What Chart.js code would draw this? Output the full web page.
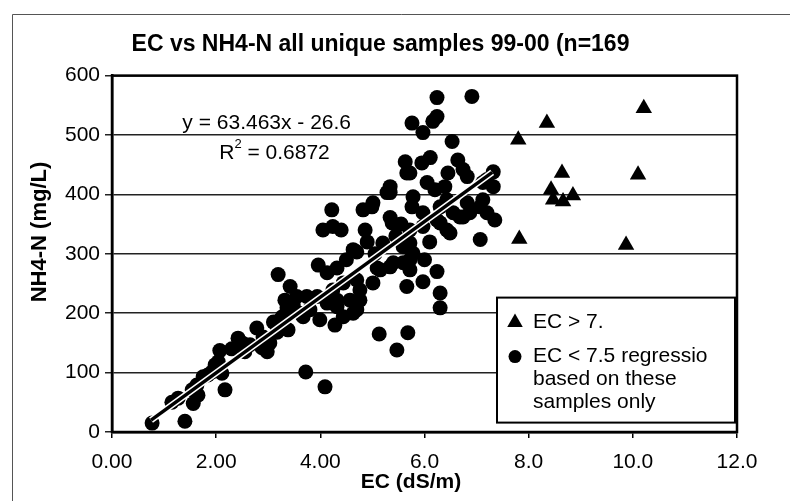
<!DOCTYPE html>
<html>
<head>
<meta charset="utf-8">
<script src="https://cdn.jsdelivr.net/npm/chart.js@4.4.1/dist/chart.umd.min.js"></script>
<style>
  html, body { margin: 0; padding: 0; background: #fff; }
</style>
</head>
<body>
<canvas id="ecChart" width="790" height="501"></canvas>
<script>
// Data
const titleText = "EC vs NH4-N all unique samples 99-00 (n=169";
const xTickLabels = ["0.00", "2.00", "4.00", "6.0", "8.0", "10.0", "12.0"];

// EC > 7.5 samples (triangles)
const highEC = [10.21, 8.35, 7.80, 8.64, 10.10, 8.43, 8.47, 8.66, 8.85, 7.82, 9.87];
const highNH4 = [545, 520, 492, 436, 433, 408, 391, 388, 398, 325, 315];

// EC < 7.5 samples used for the regression (circles)
const lowEC = [
  0.77, 1.40, 1.15, 1.27, 1.56, 1.54, 1.65, 1.63, 1.75, 1.84,
  2.17, 1.92, 1.98, 2.11, 2.07, 2.04, 2.42, 2.55, 2.65, 2.78,
  2.90, 2.98, 3.03, 2.88, 3.17, 3.28, 3.36, 3.32, 3.19, 3.42,
  3.27, 3.38, 3.72, 4.09, 3.96, 4.32, 4.63, 5.13, 5.47, 5.68,
  3.74, 3.94, 3.67, 4.28, 4.63, 4.70, 5.01, 5.09, 5.59, 5.72,
  5.66, 4.32, 4.44, 3.42, 3.23, 4.22, 4.05, 4.24, 4.82, 4.99,
  4.86, 5.34, 5.38, 5.20, 4.70, 3.55, 4.13, 4.24, 4.13, 4.32,
  4.57, 4.76, 4.70, 5.15, 5.40, 3.80, 3.61, 3.48, 3.99, 4.44,
  4.76, 6.91, 6.24, 6.24, 6.16, 5.76, 5.97, 6.53, 5.63, 5.72,
  5.95, 6.11, 6.64, 6.45, 6.74, 6.82, 5.34, 5.28, 6.05, 6.20,
  6.39, 5.78, 5.76, 5.01, 5.34, 7.20, 7.32, 7.12, 6.82, 7.07,
  7.32, 5.97, 6.55, 6.30, 5.66, 6.43, 7.12, 7.20, 7.35, 6.74,
  6.24, 6.43, 7.07, 6.24, 5.97, 6.30, 6.30, 5.72, 5.72, 5.97,
  6.30, 6.49, 6.68, 6.87, 5.72, 5.34, 5.78, 5.59, 5.45, 5.05,
  4.50, 4.90, 5.55, 6.10, 6.00, 4.40, 3.10, 2.30, 2.50
];
const lowNH4 = [
  15, 18, 50, 57, 48, 71, 62, 79, 93, 96,
  71, 101, 113, 99, 137, 118, 158, 135, 147, 175,
  160, 135, 150, 142, 168, 189, 209, 222, 265, 245,
  194, 172, 101, 76, 281, 276, 307, 165, 138, 167,
  228, 228, 194, 180, 200, 256, 251, 276, 285, 290,
  245, 222, 251, 202, 189, 374, 340, 346, 374, 379,
  340, 403, 352, 318, 303, 228, 268, 239, 217, 211,
  222, 239, 206, 273, 285, 206, 200, 214, 189, 194,
  222, 565, 563, 531, 523, 520, 504, 489, 455, 436,
  453, 462, 458, 436, 442, 430, 413, 403, 420, 408,
  413, 396, 379, 386, 361, 425, 438, 420, 386, 379,
  413, 369, 369, 379, 436, 391, 391, 369, 357, 362,
  357, 340, 324, 270, 253, 234, 209, 340, 318, 346,
  352, 335, 362, 369, 273, 278, 301, 312, 330, 300,
  290, 320, 350, 320, 290, 340, 185, 140, 150
];

// Trend line end points as drawn
const trendEC = [0.75, 7.3];
const trendNH4 = [20, 437];

const fontFamily = "'Liberation Sans', Arial, sans-serif";

function toPoints(xs, ys) {
  return xs.map((x, i) => ({ x: x, y: ys[i] }));
}

// Frame, plot border, axis titles, equation and legend box
const annotate = {
  id: "annotate",
  beforeDraw(chart) {
    const ctx = chart.ctx;
    ctx.save();
    ctx.fillStyle = "#fff";
    ctx.fillRect(0, 0, chart.width, chart.height);
    ctx.strokeStyle = "#555";
    ctx.lineWidth = 1;
    ctx.beginPath();
    ctx.moveTo(12.5, chart.height);
    ctx.lineTo(12.5, 14.5);
    ctx.lineTo(chart.width, 14.5);
    ctx.stroke();
    ctx.restore();
  },
  beforeDatasetsDraw(chart) {
    const { ctx, chartArea: a } = chart;
    ctx.save();
    ctx.strokeStyle = "#000";
    ctx.lineWidth = 2.5;
    ctx.strokeRect(a.left, a.top, a.right - a.left, a.bottom - a.top);
    ctx.restore();
  },
  afterDraw(chart) {
    const { ctx, chartArea: a } = chart;
    const xs = chart.scales.x;
    const ys = chart.scales.y;
    ctx.save();
    ctx.fillStyle = "#000";
    ctx.textBaseline = "middle";

    // axis titles
    ctx.font = "bold 21px " + fontFamily;
    ctx.textAlign = "center";
    ctx.fillText("EC (dS/m)", 411, 482);
    ctx.save();
    ctx.translate(40, 232);
    ctx.rotate(-Math.PI / 2);
    ctx.font = "bold 22px " + fontFamily;
    ctx.fillText("NH4-N (mg/L)", 0, 0);
    ctx.restore();

    // regression equation
    ctx.font = "21px " + fontFamily;
    ctx.fillText("y = 63.463x - 26.6", xs.getPixelForValue(2.97), ys.getPixelForValue(520));
    const r = "R", sup = "2", rest = " = 0.6872";
    const wR = ctx.measureText(r).width;
    const wRest = ctx.measureText(rest).width;
    ctx.font = "13px " + fontFamily;
    const wSup = ctx.measureText(sup).width;
    let x0 = xs.getPixelForValue(3.12) - (wR + wSup + wRest) / 2;
    const yR = ys.getPixelForValue(470);
    ctx.textAlign = "left";
    ctx.font = "21px " + fontFamily;
    ctx.fillText(r, x0, yR);
    ctx.font = "13px " + fontFamily;
    ctx.fillText(sup, x0 + wR, yR - 8);
    ctx.font = "21px " + fontFamily;
    ctx.fillText(rest, x0 + wR + wSup, yR);

    // legend box
    const lx = a.right - 240, ly = a.top + 222, lw = 238, lh = 125;
    ctx.fillStyle = "#fff";
    ctx.fillRect(lx, ly, lw, lh);
    ctx.strokeStyle = "#000";
    ctx.lineWidth = 2;
    ctx.strokeRect(lx, ly, lw, lh);
    ctx.fillStyle = "#000";
    Chart.helpers.drawPoint(ctx, { pointStyle: "triangle", radius: 9, rotation: 0, borderWidth: 0 }, lx + 18, ly + 25);
    Chart.helpers.drawPoint(ctx, { pointStyle: "circle", radius: 6.5, rotation: 0, borderWidth: 0 }, lx + 18, ly + 59);
    ctx.font = "21px " + fontFamily;
    ctx.fillText("EC > 7.", lx + 36, ly + 25);
    ctx.fillText("EC < 7.5 regressio", lx + 36, ly + 59);
    ctx.fillText("based on these", lx + 36, ly + 82);
    ctx.fillText("samples only", lx + 36, ly + 105);
    ctx.restore();
  }
};

const ctx = document.getElementById("ecChart").getContext("2d");
const chart = new Chart(ctx, {
  type: "scatter",
  data: {
    datasets: [
      {
        label: "EC > 7.",
        data: toPoints(highEC, highNH4),
        pointStyle: "triangle",
        pointRadius: 9.5,
        backgroundColor: "#000",
        borderColor: "#000",
        pointBorderWidth: 0,
        order: 2,
      },
      {
        label: "EC < 7.5 regressio based on these samples only",
        data: toPoints(lowEC, lowNH4),
        pointStyle: "circle",
        pointRadius: 7.5,
        backgroundColor: "#000",
        borderColor: "#000",
        pointBorderWidth: 0,
        order: 2,
      },
      {
        label: "trend halo",
        data: toPoints(trendEC, trendNH4),
        showLine: true,
        borderColor: "#fff",
        borderWidth: 6.5,
        pointRadius: 0,
        order: 1,
      },
      {
        label: "trend",
        data: toPoints(trendEC, trendNH4),
        showLine: true,
        borderColor: "#000",
        borderWidth: 3.5,
        pointRadius: 0,
        order: 0,
      },
    ],
  },
  options: {
    responsive: false,
    animation: false,
    layout: { padding: { left: 24, right: 53, top: 0, bottom: 0 } },
    plugins: {
      legend: { display: false },
      tooltip: { enabled: false },
      title: {
        display: true,
        text: titleText,
        color: "#000",
        font: { family: fontFamily, size: 23, weight: "bold" },
        padding: { top: 31, bottom: 17 },
      },
    },
    scales: {
      x: {
        type: "linear",
        min: 0,
        max: 12,
        ticks: {
          stepSize: 2,
          color: "#000",
          font: { family: fontFamily, size: 21 },
          padding: 12,
          maxRotation: 0,
          autoSkip: false,
          callback: (value, index) => xTickLabels[index],
        },
        grid: { drawOnChartArea: false, drawTicks: true, tickLength: 6, color: "#000", lineWidth: 1.5 },
        border: { display: true, color: "#000", width: 2.5 },
        afterFit(scale) { scale.height = 69; },
      },
      y: {
        min: 0,
        max: 600,
        ticks: {
          stepSize: 100,
          color: "#000",
          font: { family: fontFamily, size: 21 },
          padding: 5,
        },
        grid: { color: "#222", lineWidth: 1.5, tickLength: 7 },
        border: { display: true, color: "#000", width: 2.5 },
        afterFit(scale) { scale.width = 88; },
      },
    },
  },
  plugins: [annotate],
});
</script>
</body>
</html>
